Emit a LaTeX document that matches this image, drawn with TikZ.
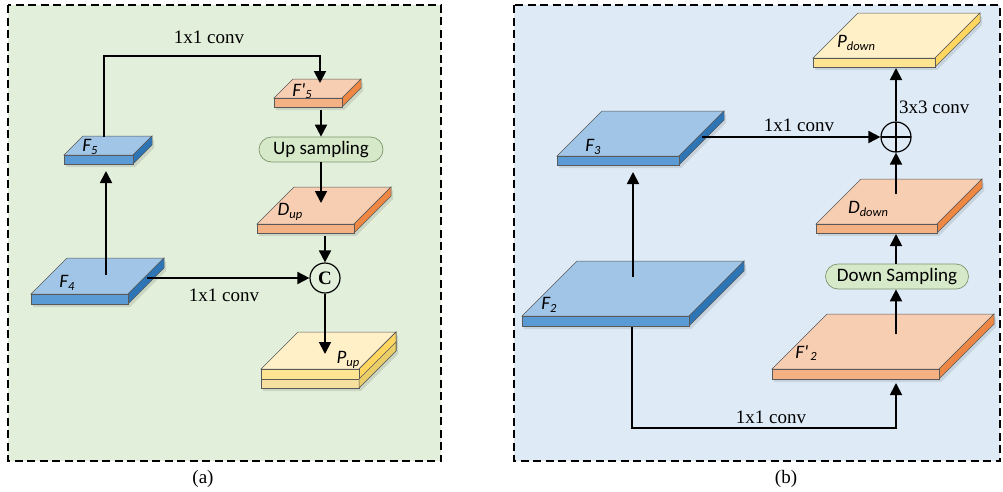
\documentclass[tikz,border=0pt]{standalone}
\usepackage{fontspec}
\setmainfont{Liberation Serif}
\newfontfamily\calfont{Carlito}
\usetikzlibrary{arrows.meta}

\definecolor{bgA}{RGB}{226,239,218}
\definecolor{bgB}{RGB}{222,235,247}
\definecolor{bluetop}{RGB}{160,197,231}
\definecolor{bluefront}{RGB}{91,155,213}
\definecolor{blueside}{RGB}{46,117,182}
\definecolor{orgtop}{RGB}{248,206,178}
\definecolor{orgfront}{RGB}{244,177,131}
\definecolor{orgside}{RGB}{238,135,68}
\definecolor{yeltop}{RGB}{255,240,200}
\definecolor{yelfront}{RGB}{255,228,145}
\definecolor{yelside}{RGB}{255,214,95}
\definecolor{yelfrontb}{RGB}{246,224,160}
\definecolor{yelsideb}{RGB}{236,206,105}
\definecolor{pillfill}{RGB}{214,233,201}
\definecolor{pilledge}{RGB}{125,148,108}

% slab: name, x, y (front top-left corner), width, depth, thickness, colour prefix
\newcommand\slab[7]{%
  \fill[black,opacity=0.10] (#2+2,#3+3) -- ++(#4,0) -- ++(#5,-#5) -- ++(0,#6) -- ++(-#5,#5) -- ++(-#4,0) -- cycle;
  \filldraw[fill=#7top, slabedge] (#2,#3) -- ++(#5,-#5) -- ++(#4,0) -- ++(-#5,#5) -- cycle;
  \filldraw[fill=#7side, slabedge] (#2+#4,#3) -- ++(#5,-#5) -- ++(0,#6) -- ++(-#5,#5) -- cycle;
  \node[slabedge, draw, fill=#7front, minimum width=#4pt, minimum height=#6pt,
        anchor=north west, inner sep=0pt, outer sep=0pt] (#1) at (#2,#3) {};
}
% italic feature-map label with a small subscript
\newcommand\fmap[2]{{\calfont\itshape\fontsize{19}{19}\selectfont #1\raisebox{-2.5pt}{\fontsize{12.5}{12.5}\selectfont #2}}}

\begin{document}
\begin{tikzpicture}[x=1pt,y=-1pt,
  slabedge/.style={draw=black!65, line width=0.5pt},
  frame/.style={draw=black, line width=1.1pt, dash pattern=on 8pt off 4.5pt},
  arr/.style={line width=1.8pt, -{Triangle[length=12pt,width=12pt]}},
  conv/.style={font=\fontsize{19}{22}\selectfont, inner sep=0pt},
  lbl/.style={inner sep=0pt},
  pill/.style={draw=pilledge, line width=0.7pt, fill=pillfill, rounded corners=12.5pt,
               minimum height=25pt, inner sep=0pt, font=\calfont\fontsize{19}{22}\selectfont},
  opnode/.style={circle, draw=black, line width=1.2pt, minimum size=30pt, inner sep=0pt, fill=none}
]
\useasboundingbox (0,0) rectangle (1003,491);

% ---------- panel (a) ----------
\filldraw[frame, fill=bgA] (8,5) rectangle (441,461);

\slab{F5}{64}{155}{69}{19}{9}{blue}
\slab{F4}{31}{294}{97}{36}{10}{blue}
\slab{F5p}{274}{98}{68}{19}{9}{org}
\slab{Dup}{257}{224}{97}{37}{9}{org}
\slab{Pup}{261}{369}{98}{37}{19}{yel}
\filldraw[fill=yelfrontb, slabedge] (261,379) rectangle (359,388);
\filldraw[fill=yelsideb, slabedge] (359,379) -- ++(37,-37) -- ++(0,9) -- ++(-37,37) -- cycle;
\draw[slabedge] (359,369) -- ++(37,-37) -- ++(0,19);

\node[lbl] (F5-lbl) at (90,147) {\fmap{F}{5}};
\node[lbl] (F4-lbl) at (67,283) {\fmap{F}{4}};
\node[lbl] (F5p-lbl) at (302,91) {\fmap{F'}{5}};
\node[lbl] (Dup-lbl) at (290,212) {\fmap{D}{up}};
\node[lbl] (Pup-lbl) at (348,360) {\fmap{P}{up}};

\node[pill, minimum width=124pt] (upS) at (321,149.5) {Up sampling};
\node[opnode] (cat) at (325,278) {\fontsize{19}{19}\selectfont\bfseries C};

\coordinate (F5-out) at (104,137);
\coordinate (F5p-in) at (320,83);
\coordinate (F5p-out) at (321,110);
\coordinate (Dup-in) at (321,203);
\coordinate (Dup-out) at (325,236);
\coordinate (Pup-in) at (325,354);
\coordinate (F4-up) at (106,275);
\coordinate (F5-in) at (106,171);
\coordinate (F4-right) at (147,278);

\draw[arr] (F5-out) |- ([yshift=27pt]F5p-in) -- (F5p-in);
\draw[arr] (F5p-out) -- (upS.north);
\draw[arr] (upS.south) -- (Dup-in);
\draw[arr] (Dup-out) -- (cat.north);
\draw[arr] (cat.south) -- (Pup-in);
\draw[arr] (F4-up) -- (F5-in);
\draw[arr] (F4-right) -- (cat.west);

\node[conv] (convA1) at (209,37) {1x1 conv};
\node[conv] (convA2) at (224,295) {1x1 conv};
\node[conv] (capA) at (203,479) {(a)};

% ---------- panel (b) ----------
\filldraw[frame, fill=bgB] (514,5) rectangle (1000,461);

\slab{Pdown}{813}{58}{122}{45}{9}{yel}
\slab{F3}{557}{156}{122}{45}{9}{blue}
\slab{F2}{522}{316}{167}{55}{10}{blue}
\slab{F2p}{772}{369}{167}{55}{10}{org}
\slab{Ddown}{816}{224}{121}{45}{9}{org}

\node[lbl] (Pdown-lbl) at (856,43) {\fmap{P}{down}};
\node[lbl] (F3-lbl) at (593,147) {\fmap{F}{3}};
\node[lbl] (F2-lbl) at (549,305) {\fmap{F}{2}};
\node[lbl] (F2p-lbl) at (806,353) {\fmap{F'}{\,2}};
\node[lbl] (Ddown-lbl) at (868,209) {\fmap{D}{down}};

\node[pill, minimum width=143pt] (downS) at (897,276.5) {Down Sampling};
\node[opnode, path picture={
    \draw[line width=1.2pt] (path picture bounding box.west) -- (path picture bounding box.east);
    \draw[line width=1.2pt] (path picture bounding box.north) -- (path picture bounding box.south);}]
  (add) at (896,137) {};

\coordinate (F3-out) at (702,137);
\coordinate (F2-up) at (633,277);
\coordinate (F3-in) at (633,172);
\coordinate (F2-down) at (632,327);
\coordinate (F2p-in) at (896,383);
\coordinate (F2p-out) at (896,334);
\coordinate (Ddown-in) at (896,234);
\coordinate (Ddown-out) at (896,194);
\coordinate (Pdown-in) at (896,68);

\draw[arr] (F3-out) -- (add.west);
\draw[arr] (F2-up) -- (F3-in);
\draw[arr] (F2-down) |- ([yshift=-45pt]F2p-in) -- (F2p-in);
\draw[arr] (F2p-out) -- (downS.south -| F2p-out);
\draw[arr] (downS.north -| Ddown-in) -- (Ddown-in);
\draw[arr] (Ddown-out) -- (add.south);
\draw[arr] (add.north) -- (Pdown-in);

\node[conv] (convB1) at (799,125) {1x1 conv};
\node[conv, anchor=west] (convB3) at (899,107) {3x3 conv};
\node[conv] (convB2) at (771,417) {1x1 conv};
\node[conv] (capB) at (786,479) {(b)};
\end{tikzpicture}
\end{document}
